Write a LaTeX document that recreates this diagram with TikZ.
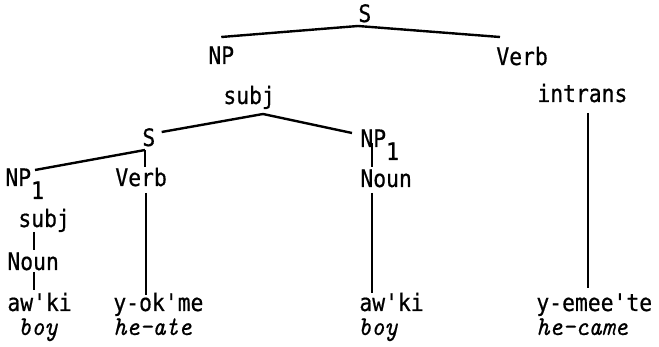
\documentclass[tikz,border=0pt]{standalone}
\usepackage{fontspec}
\newfontfamily\treefont[FakeStretch=0.89,FakeBold=0.6]{DejaVu Sans Mono}
\newfontfamily\glossfont[FakeStretch=0.92,FakeBold=0.4]{lmmono10-italic.otf}
\newcommand{\subdrop}[1]{\raisebox{-6.5pt}{#1}}

\begin{document}
\begin{tikzpicture}[x=0.5pt,y=-0.5pt,
    word/.style={anchor=base west,inner sep=0pt,font=\treefont\fontsize{12}{14}\selectfont},
    gloss/.style={anchor=base west,inner sep=0pt,font=\glossfont\fontsize{13.5}{15}\selectfont},
    branch/.style={line width=1.2pt}]
                        \useasboundingbox (0,0) rectangle (659,347);
                        % top level
                        \node[word] (S0) at (358,22) {S};
                        \node[word] (NP0) at (208,64) {NP};
                        \node[word] (V0) at (496,65) {Verb};
                        \node[word] (subj0) at (223,104) {subj};
                        \node[word] (intr) at (537,102) {intrans};
                        % embedded sentence
                        \node[word] (S1) at (142,146) {S};
                        \node[word] (NP1r) at (360,147) {NP\subdrop{1}};
                        \node[word] (NP1l) at (5,186) {NP\subdrop{1}};
                        \node[word] (V1) at (115,186) {Verb};
                        \node[word] (Nounr) at (360,187) {Noun};
                        \node[word] (subjl) at (18,227) {subj};
                        \node[word] (Nounl) at (7,270) {Noun};
                        % words
                        \node[word] (awl) at (7,311) {aw'ki};
                        \node[word] (yok) at (113,311) {y-ok'me};
                        \node[word] (awr) at (359,311) {aw'ki};
                        \node[word] (yem) at (536,311) {y-emee'te};
                        \node[gloss] (boyl) at (18,335) {boy};
                        \node[gloss] (heate) at (113,335) {he-ate};
                        \node[gloss] (boyr) at (358,335) {boy};
                        \node[gloss] (hecame) at (536,335) {he-came};

                        \coordinate (S0foot) at ([yshift=-2pt]S0.base west);
                        \coordinate (subjfoot) at ([xshift=20pt,yshift=-5pt]subj0.base west);
                        \coordinate (S1foot) at ([xshift=1.5pt,yshift=-2pt]S1.base west);

                        \begin{scope}[branch]
                            \draw (S0foot) -- ([yshift=13.5pt]NP0.base);
                            \draw (S0foot) -- ([xshift=2pt,yshift=14pt]V0.base west);
                            \draw (subjfoot) -- ([xshift=3pt,yshift=7pt]S1.base east);
                            \draw (subjfoot) -- ([xshift=-4pt,yshift=7pt]NP1r.base west);
                            \draw (S1foot) -- ([xshift=15pt,yshift=8pt]NP1l.base west);
                            \draw (S1foot) -- (S1foot |- V1.north);
                            \draw ([xshift=15.5pt,yshift=-3.5pt]V1.base west) -- ([xshift=16.5pt,yshift=8pt]yok.base west);
                            \draw ([xshift=8pt,yshift=-2.5pt]subjl.base west) -- ([xshift=13.5pt,yshift=10pt]Nounl.base west);
                            \draw ([xshift=13.5pt,yshift=-1pt]Nounl.base west) -- ([xshift=13.5pt,yshift=10.5pt]awl.base west);
                            \draw ([xshift=6pt,yshift=2pt]NP1r.base west) -- ([xshift=6pt,yshift=10pt]Nounr.base west);
                            \draw ([xshift=6pt,yshift=-3pt]Nounr.base west) -- ([xshift=6.5pt,yshift=9pt]awr.base west);
                            \draw ([xshift=25.5pt,yshift=-5.5pt]intr.base west) -- ([xshift=26pt,yshift=11.5pt]yem.base west);
                        \end{scope}
                    \end{tikzpicture}
\end{document}
